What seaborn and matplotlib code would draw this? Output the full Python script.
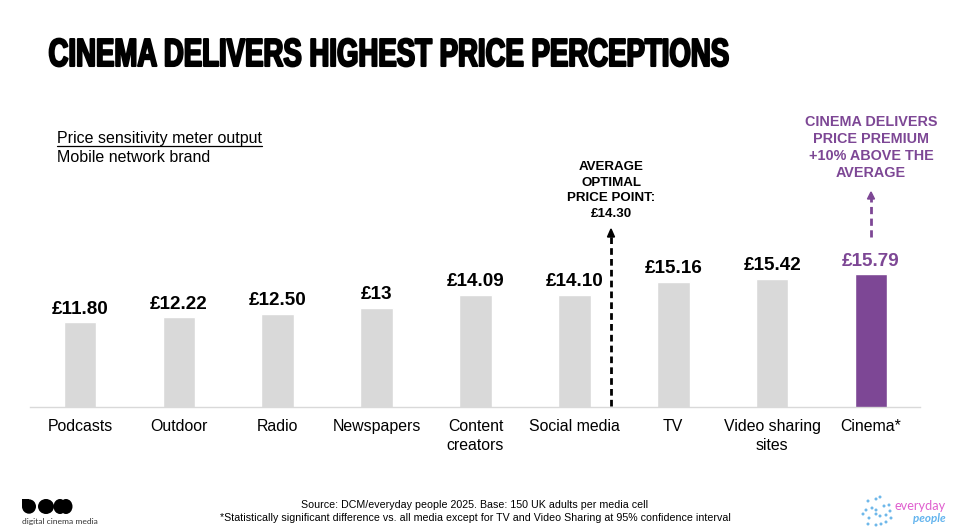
import matplotlib
matplotlib.use("Agg")
import matplotlib.pyplot as plt
import matplotlib.patheffects as pe
from matplotlib.patches import Circle, Ellipse, Rectangle
from matplotlib.transforms import Affine2D
import seaborn as sns
import pandas as pd

categories = ["Podcasts", "Outdoor", "Radio", "Newspapers", "Content\ncreators",
              "Social media", "TV", "Video sharing\nsites", "Cinema*"]
values = [11.80, 12.22, 12.50, 13.00, 14.09, 14.10, 15.16, 15.42, 15.79]
labels = ["£11.80", "£12.22", "£12.50", "£13", "£14.09", "£14.10", "£15.16", "£15.42", "£15.79"]
GREY = "#d9d9d9"
PURPLE = "#7d4795"
bar_colors = [GREY] * 8 + [PURPLE]

sns.set_theme(style="white")
plt.rcParams["font.family"] = ["Liberation Sans", "DejaVu Sans"]

W, H = 954, 532
fig = plt.figure(figsize=(W / 100, H / 100), dpi=100, facecolor="white")
def fx(x): return x / W
def fy(y): return 1 - y / H


class TallHeavy(pe.AbstractPathEffect):
    """Stretch a text vertically about its baseline and thicken it (Impact-like look)."""
    def __init__(self, base_y_px, sy, lw):
        super().__init__()
        self.base_y_px, self.sy, self.lw = base_y_px, sy, lw

    def draw_path(self, renderer, gc, tpath, affine, rgbFace=None):
        y0 = H - self.base_y_px
        aff = affine + Affine2D().translate(0, -y0).scale(1, self.sy).translate(0, y0)
        gc0 = renderer.new_gc()
        gc0.copy_properties(gc)
        gc0.set_linewidth(self.lw)
        gc0.set_foreground("black")
        renderer.draw_path(gc0, tpath, aff, rgbFace)
        gc0.restore()


ax_l, ax_r, ax_t, ax_b = 30.5, 920.5, 200, 406.5
ax = fig.add_axes([fx(ax_l), fy(ax_b), (ax_r - ax_l) / W, (ax_b - ax_t) / H])
df = pd.DataFrame({"cat": categories, "val": values})
sns.barplot(data=df, x="cat", y="val", hue="cat", palette=bar_colors, legend=False,
            width=0.33, ax=ax, saturation=1)
ax.set_ylim(4.78, 4.78 + (ax_b - ax_t) / 12.0)
ax.set_xlim(-0.5, 8.5)
ax.set_xlabel(""); ax.set_ylabel("")
ax.set_yticks([])
ax.tick_params(axis="x", length=0, pad=9, labelsize=11.4, labelcolor="black")
for lab in ax.get_xticklabels():
    lab.set_linespacing(1.33)
for s in ["top", "left", "right"]:
    ax.spines[s].set_visible(False)
ax.spines["bottom"].set_color("#d9d9d9")
ax.spines["bottom"].set_linewidth(1)
ax.set_facecolor("none")

for i, (v, t) in enumerate(zip(values, labels)):
    ax.annotate(t, (i, v), xytext=(0, 3.2), textcoords="offset points", ha="center", va="bottom",
                fontsize=13.6, fontweight="bold", color=PURPLE if i == 8 else "black", clip_on=False)

# Title
fig.text(fx(48.5), fy(66), "CINEMA DELIVERS HIGHEST PRICE PERCEPTIONS",
         fontweight="bold", fontsize=19.85, color="black", ha="left", va="baseline",
         path_effects=[TallHeavy(66, 1.42, 1.5)])

# Subtitle
fig.text(fx(57), fy(143), "Price sensitivity meter output", fontsize=11.5, color="black",
         ha="left", va="baseline")
fig.add_artist(plt.Line2D([fx(57), fx(262)], [fy(146), fy(146)], color="black", lw=0.9))
fig.text(fx(57), fy(162), "Mobile network brand", fontsize=11.5, color="black", ha="left", va="baseline")

# Average callout
fig.text(fx(611.5), fy(190.5), "AVERAGE\nOPTIMAL\nPRICE POINT:\n£14.30", fontsize=9.6, fontweight="bold",
         ha="center", va="center", color="black", linespacing=1.41, multialignment="center")
fig.add_artist(plt.Line2D([fx(611), fx(611)], [fy(406), fy(236)], color="black", lw=2,
                          dashes=(2.4, 1.5)))
fig.add_artist(plt.Polygon([[fx(607.5), fy(237)], [fx(614.5), fy(237)], [fx(611), fy(229)]],
                           closed=True, color="black", transform=fig.transFigure))

# Cinema callout
fig.text(fx(871), fy(147.5), "CINEMA DELIVERS\nPRICE PREMIUM\n+10% ABOVE THE\nAVERAGE", fontsize=10.4,
         fontweight="bold", ha="center", va="center", color=PURPLE, linespacing=1.3,
         multialignment="center")
fig.add_artist(plt.Line2D([fx(871), fx(871)], [fy(237), fy(198)], color=PURPLE, lw=2,
                          dashes=(2.6, 1.6)))
fig.add_artist(plt.Polygon([[fx(867.5), fy(199)], [fx(874.5), fy(199)], [fx(871), fy(192)]],
                           closed=True, color=PURPLE, transform=fig.transFigure))

# Footer
fig.text(fx(475), fy(505), "Source: DCM/everyday people 2025. Base: 150 UK adults per media cell",
         fontsize=7.7, ha="center", va="center", color="black")
fig.text(fx(475), fy(518), "*Statistically significant difference vs. all media except for TV and Video Sharing at 95% confidence interval",
         fontsize=7.7, ha="center", va="center", color="black")

# Logos (page furniture) drawn in a pixel-coordinate overlay
ov = fig.add_axes([0, 0, 1, 1], facecolor="none")
ov.set_xlim(0, W); ov.set_ylim(H, 0); ov.axis("off")
ov.add_patch(Rectangle((22, 499), 7, 7, color="black", lw=0))
for cx, cy, rx, ry in [(29, 506.5, 7, 7.2), (46, 506.5, 8, 7.5), (60, 506.5, 6.5, 7.5), (66, 506.5, 6.5, 7.5)]:
    ov.add_patch(Ellipse((cx, cy), 2 * rx, 2 * ry, color="black", lw=0))
ov.text(22, 521.5, "digital cinema media", fontsize=6.1, color="#333333", ha="left", va="center",
        family="Lato")
ov.text(946, 506.5, "everyday", fontsize=9.2, color="#e060cf", ha="right", va="center", family="Lato")
ov.text(946, 519, "people", fontsize=8.4, color="#63b4ee", ha="right", va="center", family="Lato",
        style="italic", fontweight="bold")
for cx, cy in [(868, 501), (876, 499), (880, 497), (866, 510), (872, 508), (876, 510), (884, 506),
               (889, 505), (863, 514), (869, 518), (876, 514), (880, 516), (886, 515), (891, 518),
               (868, 524), (876, 525), (881, 524), (886, 522), (890, 511)]:
    ov.add_patch(Circle((cx, cy), 1.5, color="#6fb8ea", lw=0))

fig.savefig("out.png", dpi=100, facecolor="white")
